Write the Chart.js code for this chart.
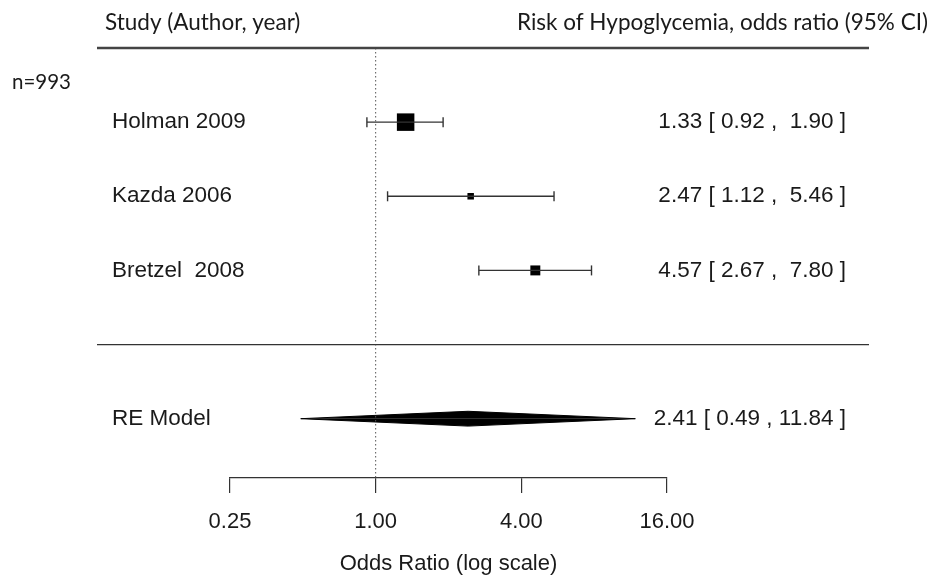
<!DOCTYPE html>
<html>
<head>
<meta charset="utf-8">
<title>Risk of Hypoglycemia</title>
<script src="https://cdn.jsdelivr.net/npm/chart.js@4.4.1/dist/chart.umd.min.js"></script>
<style>
  html, body { margin: 0; padding: 0; background: #fff; }
  #forest { display: block; }
</style>
</head>
<body>
<canvas id="forest" width="930" height="575"></canvas>
<script>
// per-study odds ratios with 95% CI
const studies = ['Holman 2009', 'Kazda 2006', 'Bretzel  2008'];
const oddsRatio = [1.33, 2.47, 4.57];
const ciLower = [0.92, 1.12, 2.67];
const ciUpper = [1.90, 5.46, 7.80];

// random-effects summary
const pooledLabel = 'RE Model';
const pooledOR = 2.41;
const pooledLower = 0.49;
const pooledUpper = 11.84;

const xTicks = [0.25, 1, 4, 16];
const sampleNote = 'n=993';

// layout / style
const ARIAL = '"Liberation Sans", Arial, sans-serif';
const HEAD = 'Lato, "Open Sans", sans-serif';
const INK = '#1a1a1a';
const ruleLeft = 97, ruleRight = 869;   // px extent of the horizontal rules
const labelX = 112, estX = 846;
const sqMin = 6.5, sqMax = 17.5;        // square side range, px
const diamondHalf = 0.1;                // half height of summary diamond, y units

const k = studies.length;
const topRow = k + 3;                   // header rule
const sepRow = 2;                       // rule above summary
const pooledRow = 1;
const yMin = 0.2;
const rowY = i => k + 2 - i;

// inverse-variance weights from the CI width -> square size
const weights = ciLower.map((lo, i) => {
  const se = (Math.log(ciUpper[i]) - Math.log(lo)) / (2 * 1.96);
  return 1 / (se * se);
});
const wMin = Math.min(...weights), wMax = Math.max(...weights);
const sides = weights.map(w => sqMin + (w - wMin) / (wMax - wMin) * (sqMax - sqMin));

const fmt = v => v.toFixed(2);
const hiWidth = Math.max(...ciUpper.concat([pooledUpper]).map(v => fmt(v).length));
const ciText = (e, lo, hi) => `${fmt(e)} [ ${fmt(lo)} , ${fmt(hi).padStart(hiWidth)} ]`;

const datasets = [];

// line of no effect
datasets.push({
  data: [{ x: 1, y: topRow }, { x: 1, y: yMin }],
  borderColor: '#555', borderWidth: 1, borderDash: [1.5, 2.5], pointRadius: 0
});

// confidence intervals with end caps
studies.forEach((s, i) => {
  datasets.push({
    data: [{ x: ciLower[i], y: rowY(i) }, { x: ciUpper[i], y: rowY(i) }],
    borderColor: '#333', borderWidth: 1.4,
    pointStyle: 'line', pointRotation: 90, pointRadius: 5, pointHoverRadius: 5,
    pointBorderColor: '#333', pointBorderWidth: 1.4
  });
});

// point estimates
datasets.push({
  data: studies.map((s, i) => ({ x: oddsRatio[i], y: rowY(i) })),
  showLine: false, pointStyle: 'rect',
  pointRadius: sides.map(d => d / (2 * Math.SQRT1_2)),
  pointHoverRadius: sides.map(d => d / (2 * Math.SQRT1_2)),
  pointBackgroundColor: '#000', pointBorderWidth: 0
});

// summary diamond (upper and lower halves filled to the row line)
[1, -1].forEach(sign => {
  datasets.push({
    data: [
      { x: pooledLower, y: pooledRow },
      { x: pooledOR, y: pooledRow + sign * diamondHalf },
      { x: pooledUpper, y: pooledRow }
    ],
    borderColor: '#000', borderWidth: 1, backgroundColor: '#000',
    fill: { value: pooledRow }, pointRadius: 0
  });
});

// rules and text columns
const forestText = {
  id: 'forestText',
  afterDatasetsDraw(chart) {
    const ctx = chart.ctx;
    const y = chart.scales.y;
    ctx.save();

    ctx.strokeStyle = '#444';
    ctx.lineWidth = 2.5;
    ctx.beginPath();
    ctx.moveTo(ruleLeft, y.getPixelForValue(topRow));
    ctx.lineTo(ruleRight, y.getPixelForValue(topRow));
    ctx.stroke();

    ctx.strokeStyle = '#333';
    ctx.lineWidth = 1.3;
    ctx.beginPath();
    ctx.moveTo(ruleLeft, y.getPixelForValue(sepRow));
    ctx.lineTo(ruleRight, y.getPixelForValue(sepRow));
    ctx.stroke();

    ctx.fillStyle = INK;
    ctx.textBaseline = 'middle';

    ctx.font = '22.5px ' + HEAD;
    ctx.textAlign = 'left';
    ctx.fillText('Study (Author, year)', 105, 23);
    ctx.textAlign = 'right';
    ctx.fillText('Risk of Hypoglycemia, odds ratio (95% CI)', 928, 23);
    ctx.font = '20.5px ' + HEAD;
    ctx.textAlign = 'left';
    ctx.fillText(sampleNote, 12, 82);

    ctx.font = '22.5px ' + ARIAL;
    studies.forEach((s, i) => {
      const py = y.getPixelForValue(rowY(i));
      ctx.textAlign = 'left';
      ctx.fillText(s, labelX, py);
      ctx.textAlign = 'right';
      ctx.fillText(ciText(oddsRatio[i], ciLower[i], ciUpper[i]), estX, py);
    });
    const pp = y.getPixelForValue(pooledRow);
    ctx.textAlign = 'left';
    ctx.fillText(pooledLabel, labelX, pp);
    ctx.textAlign = 'right';
    ctx.fillText(ciText(pooledOR, pooledLower, pooledUpper), estX, pp);

    ctx.restore();
  }
};

new Chart(document.getElementById('forest'), {
  type: 'line',
  data: { datasets },
  options: {
    responsive: false,
    animation: false,
    events: [],
    layout: { padding: { left: 230, right: 263, top: 48, bottom: 0 } },
    plugins: { legend: { display: false }, tooltip: { enabled: false } },
    scales: {
      x: {
        type: 'logarithmic',
        min: xTicks[0],
        max: xTicks[xTicks.length - 1],
        afterBuildTicks: s => { s.ticks = xTicks.map(v => ({ value: v })); },
        afterFit: s => { s.height = 97; },
        grid: { drawOnChartArea: false, drawTicks: true, tickLength: 15, color: '#333', lineWidth: 1.2 },
        border: { display: true, color: '#333', width: 1.2 },
        ticks: {
          autoSkip: false, maxRotation: 0, padding: 16, color: INK,
          font: { family: ARIAL, size: 22 },
          callback: v => Number(v).toFixed(2)
        },
        title: {
          display: true, text: 'Odds Ratio (log scale)', color: INK,
          font: { family: ARIAL, size: 22 }, padding: { top: 0, bottom: -2 }
        }
      },
      y: { type: 'linear', display: false, min: yMin, max: topRow }
    }
  },
  plugins: [forestText]
});
</script>
</body>
</html>
